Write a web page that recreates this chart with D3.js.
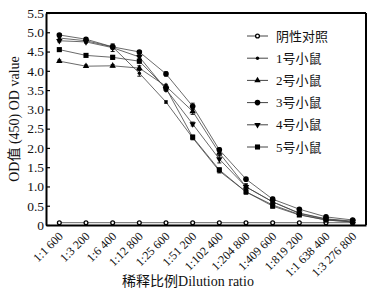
<!DOCTYPE html>
<html>
<head>
<meta charset="utf-8">
<script src="https://cdn.jsdelivr.net/npm/d3@7"></script>
<style>
  body { margin: 0; background: #fff; }
</style>
</head>
<body>
<div id="chart"></div>
<script>
const ratios = ['1:1 600', '1:3 200', '1:6 400', '1:12 800', '1:25 600', '1:51 200',
    '1:102 400', '1:204 800', '1:409 600', '1:819 200', '1:1 638 400', '1:3 276 800'];

const yTicks = [0, 0.5, 1.0, 1.5, 2.0, 2.5, 3.0, 3.5, 4.0, 4.5, 5.0, 5.5];

const seriesNames = ['阴性对照', '1号小鼠', '2号小鼠', '3号小鼠', '4号小鼠', '5号小鼠'];
const seriesSymbols = ['open', 'dot', 'up', 'circle', 'down', 'square'];

const negValues = [0.06, 0.06, 0.06, 0.06, 0.06, 0.06, 0.06, 0.06, 0.06, 0.06, 0.06, 0.06];
const m1Values = [4.85, 4.78, 4.62, 3.94, 3.19, 2.26, 1.40, 0.86, 0.52, 0.27, 0.13, 0.08];
const m2Values = [4.25, 4.12, 4.13, 4.07, 3.60, 2.95, 1.87, 0.99, 0.60, 0.31, 0.16, 0.10];
const m3Values = [4.93, 4.82, 4.62, 4.49, 3.92, 3.08, 1.95, 1.19, 0.67, 0.41, 0.21, 0.13];
const m4Values = [4.78, 4.75, 4.60, 4.36, 3.52, 2.62, 1.71, 0.99, 0.60, 0.30, 0.15, 0.09];
const m5Values = [4.55, 4.40, 4.35, 4.25, 3.55, 2.28, 1.43, 0.86, 0.49, 0.26, 0.13, 0.08];

const m1Err = [0.03, 0.03, 0.05, 0.08, 0.03, 0.05, 0.05, 0.03, 0.04, 0.03, 0.02, 0.02];
const m2Err = [0.03, 0.03, 0.03, 0.06, 0.05, 0.08, 0.08, 0.05, 0.10, 0.04, 0.02, 0.02];
const m3Err = [0.03, 0.04, 0.05, 0.03, 0.05, 0.08, 0.05, 0.04, 0.05, 0.03, 0.02, 0.02];
const m4Err = [0.03, 0.03, 0.10, 0.06, 0.05, 0.05, 0.10, 0.08, 0.08, 0.04, 0.02, 0.02];
const m5Err = [0.03, 0.03, 0.05, 0.05, 0.05, 0.05, 0.05, 0.06, 0.05, 0.03, 0.02, 0.02];

const allValues = [negValues, m1Values, m2Values, m3Values, m4Values, m5Values];
const allErr = [null, m1Err, m2Err, m3Err, m4Err, m5Err];

const FONT = '"Liberation Serif", "Times New Roman", "Noto Sans CJK SC", serif';

const width = 372;
const height = 299;
const margin = { top: 13, right: 6, bottom: 74, left: 46 };

const svg = d3.select("#chart")
    .append("svg")
    .attr("width", width)
    .attr("height", height);

const xScale = d3.scalePoint()
    .domain(ratios)
    .range([margin.left, width - margin.right])
    .padding(0.5);

const yScale = d3.scaleLinear()
    .domain([0, 5.5])
    .range([height - margin.bottom, margin.top]);

// frame top and right
svg.append("line")
    .attr("x1", margin.left).attr("x2", width - margin.right)
    .attr("y1", margin.top).attr("y2", margin.top)
    .attr("stroke", "#000").attr("stroke-width", 2);
svg.append("line")
    .attr("x1", width - margin.right).attr("x2", width - margin.right)
    .attr("y1", margin.top).attr("y2", height - margin.bottom)
    .attr("stroke", "#000").attr("stroke-width", 2);

// X axis
const xAxis = svg.append("g")
    .attr("transform", `translate(0,${height - margin.bottom})`)
    .call(d3.axisBottom(xScale).tickSizeInner(-4).tickSizeOuter(0));
xAxis.attr("font-family", FONT);
xAxis.select(".domain").attr("stroke-width", 2);
xAxis.selectAll(".tick line").attr("stroke-width", 1.2);
xAxis.selectAll(".tick text")
    .style("font-family", FONT)
    .style("font-size", "12px")
    .attr("fill", "#111")
    .attr("text-anchor", "end")
    .attr("x", 0).attr("y", 0)
    .attr("dy", "0.35em")
    .attr("transform", "translate(1,9) rotate(-45)");

// Y axis
const yAxis = svg.append("g")
    .attr("transform", `translate(${margin.left},0)`)
    .call(d3.axisLeft(yScale).tickValues(yTicks)
        .tickFormat(d => d === 0 ? "0" : d3.format(".1f")(d))
        .tickSizeInner(-4).tickSizeOuter(0));
yAxis.attr("font-family", FONT);
yAxis.select(".domain").attr("stroke-width", 2);
yAxis.selectAll(".tick line").attr("stroke-width", 1.2);
yAxis.selectAll(".tick text")
    .style("font-family", FONT)
    .style("font-size", "13.5px")
    .attr("fill", "#111")
    .attr("x", -2);

// Axis labels
svg.append("text")
    .attr("x", 188)
    .attr("y", 286)
    .attr("text-anchor", "middle")
    .style("font-family", FONT)
    .style("font-size", "14px")
    .attr("fill", "#111")
    .text("稀释比例Dilution ratio");

svg.append("text")
    .attr("x", -(margin.top + (height - margin.bottom)) / 2)
    .attr("y", 19)
    .attr("transform", "rotate(-90)")
    .attr("text-anchor", "middle")
    .style("font-family", FONT)
    .style("font-size", "14px")
    .attr("fill", "#111")
    .text("OD值 (450) OD value");

function drawSymbol(g, type, x, y) {
    if (type === 'open') {
        g.append("circle").attr("cx", x).attr("cy", y).attr("r", 1.9)
            .attr("fill", "#fff").attr("stroke", "#000").attr("stroke-width", 1.3);
    } else if (type === 'dot') {
        g.append("circle").attr("cx", x).attr("cy", y).attr("r", 1.7).attr("fill", "#000");
    } else if (type === 'circle') {
        g.append("circle").attr("cx", x).attr("cy", y).attr("r", 2.8).attr("fill", "#000");
    } else {
        const sym = type === 'square' ? d3.symbolSquare : d3.symbolTriangle;
        const size = type === 'square' ? 26 : 18;
        g.append("path")
            .attr("d", d3.symbol().type(sym).size(size)())
            .attr("transform", `translate(${x},${y})` + (type === 'down' ? " rotate(180)" : ""))
            .attr("fill", "#000");
    }
}

const line = d3.line()
    .x((d, i) => xScale(ratios[i]))
    .y(d => yScale(d));

// Lines
allValues.forEach(vals => {
    svg.append("path")
        .datum(vals)
        .attr("fill", "none")
        .attr("stroke", "#444")
        .attr("stroke-width", 0.8)
        .attr("d", line);
});

// Error bars and markers
allValues.forEach((vals, s) => {
    const g = svg.append("g");
    vals.forEach((v, i) => {
        const x = xScale(ratios[i]);
        const err = allErr[s];
        if (err) {
            const y0 = yScale(v - err[i]), y1 = yScale(v + err[i]);
            g.append("line").attr("x1", x).attr("x2", x).attr("y1", y0).attr("y2", y1)
                .attr("stroke", "#000").attr("stroke-width", 0.9);
            [y0, y1].forEach(yy => g.append("line")
                .attr("x1", x - 2).attr("x2", x + 2).attr("y1", yy).attr("y2", yy)
                .attr("stroke", "#000").attr("stroke-width", 0.9));
        }
        drawSymbol(g, seriesSymbols[s], x, yScale(v));
    });
});

// Legend
const legend = svg.append("g");
seriesNames.forEach((name, i) => {
    const y = 36 + i * 22.2;
    legend.append("line")
        .attr("x1", 247).attr("x2", 268).attr("y1", y).attr("y2", y)
        .attr("stroke", "#444").attr("stroke-width", 1);
    drawSymbol(legend, seriesSymbols[i], 257.5, y);
    legend.append("text")
        .attr("x", 276)
        .attr("y", y)
        .attr("dy", "0.36em")
        .style("font-family", FONT)
        .style("font-size", "13px")
        .attr("fill", "#111")
        .text(name);
});
</script>
</body>
</html>
